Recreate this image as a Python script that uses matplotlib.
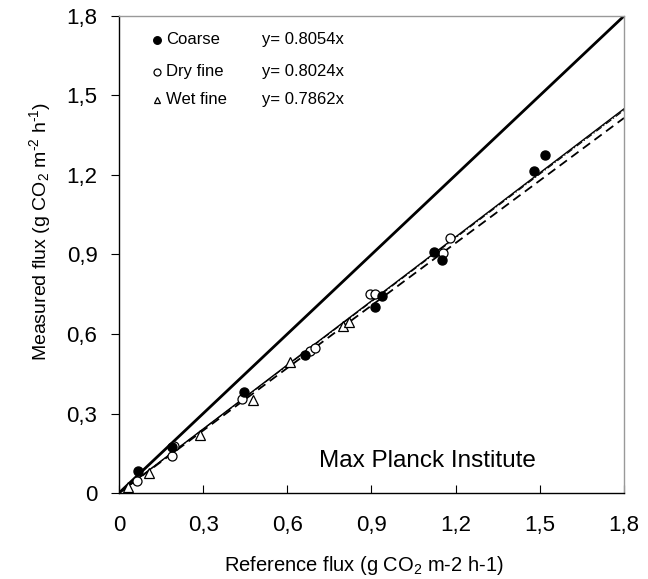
import matplotlib
matplotlib.use("Agg")
import matplotlib.pyplot as plt
import numpy as np

plt.rcParams['font.family'] = ['Liberation Sans', 'DejaVu Sans']
plt.rcParams['mathtext.fontset'] = 'custom'
plt.rcParams['mathtext.rm'] = 'Liberation Sans'
plt.rcParams['mathtext.it'] = 'Liberation Sans'

# Flux comparison data (g CO2 m-2 h-1)
coarse_ref = [0.068, 0.189, 0.445, 0.663, 0.912, 0.937, 1.123, 1.151, 1.479, 1.518]
coarse_meas = [0.083, 0.172, 0.381, 0.521, 0.702, 0.743, 0.909, 0.879, 1.215, 1.275]

dry_ref = [0.064, 0.190, 0.195, 0.440, 0.680, 0.700, 0.895, 0.912, 1.155, 1.180]
dry_meas = [0.045, 0.140, 0.178, 0.355, 0.535, 0.548, 0.750, 0.750, 0.906, 0.962]

wet_ref = [0.032, 0.107, 0.289, 0.478, 0.610, 0.800, 0.820]
wet_meas = [0.023, 0.075, 0.219, 0.351, 0.494, 0.630, 0.645]

slopes = [0.8054, 0.8024, 0.7862]
series_names = ["Coarse", "Dry fine", "Wet fine"]

xticks = [0, 0.3, 0.6, 0.9, 1.2, 1.5, 1.8]
tick_labels = ["0", "0,3", "0,6", "0,9", "1,2", "1,5", "1,8"]

fig = plt.figure(figsize=(6.48, 5.79), dpi=100)
ax = fig.add_axes([0.1836, 0.1485, 0.7794, 0.8239])

xs = np.array([0, 1.8])
# 1:1 line
ax.plot(xs, xs, color='black', lw=2.0, zorder=2)
# regression lines through origin
ax.plot(xs, slopes[0] * xs, color='black', lw=1.0, zorder=2)
ax.plot(xs, slopes[1] * xs, color='black', lw=0.8, ls=(0, (6, 2, 1, 2)), zorder=2)
ax.plot(xs, slopes[2] * xs, color='black', lw=1.3, ls=(0, (5, 3)), zorder=2)

ax.plot(coarse_ref, coarse_meas, 'o', color='black', ms=6.5, zorder=4)
ax.plot(dry_ref, dry_meas, 'o', mfc='white', mec='black', mew=0.9, ms=6.5, zorder=3)
ax.plot(wet_ref, wet_meas, '^', mfc='white', mec='black', mew=0.9, ms=7.5, zorder=3)

ax.set_xlim(0, 1.8)
ax.set_ylim(0, 1.8)
ax.set_xticks(xticks)
ax.set_xticklabels(tick_labels)
ax.set_yticks(xticks)
ax.set_yticklabels(tick_labels)
ax.tick_params(axis='x', direction='in', length=6, width=0.8, pad=16, labelsize=16)
ax.tick_params(axis='y', direction='out', length=6, width=0.8, pad=9.5, labelsize=16)

for side in ['left', 'bottom']:
    ax.spines[side].set_color('black')
    ax.spines[side].set_linewidth(1.0)
for side in ['top', 'right']:
    ax.spines[side].set_color('#999999')
    ax.spines[side].set_linewidth(1.0)

ax.set_xlabel(r"Reference flux (g CO$_\mathregular{2}$ m-2 h-1)", fontsize=14.5)
ax.set_ylabel(r"Measured flux (g CO$\mathregular{_2}$ m$^{\text{-2}}$ h$^{\text{-1}}$)",
              fontsize=14)
ax.xaxis.set_label_coords(0.485, -0.151)
ax.yaxis.set_label_coords(-0.156, 0.549)
ax.xaxis.label.set_va('center')
ax.yaxis.label.set_va('center')

# legend drawn as text rows
markers = [dict(marker='o', mfc='black', mec='black', ms=5.5),
           dict(marker='o', mfc='white', mec='black', ms=5.0),
           dict(marker='^', mfc='white', mec='black', ms=5.0)]
row_y = [0.950, 0.883, 0.824]
for name, slope, mk, yy in zip(series_names, slopes, markers, row_y):
    ax.plot([0.075], [yy], transform=ax.transAxes, ls='none', mew=0.9,
            clip_on=False, **mk)
    ax.text(0.093, yy, name, transform=ax.transAxes, va='center', ha='left', fontsize=12)
    ax.text(0.283, yy, f"y= {slope}x", transform=ax.transAxes, va='center', ha='left',
            fontsize=12)

ax.text(0.396, 0.055, "Max Planck Institute", transform=ax.transAxes, ha='left',
        va='baseline', fontsize=17.5)

fig.savefig("out.png", dpi=100)
